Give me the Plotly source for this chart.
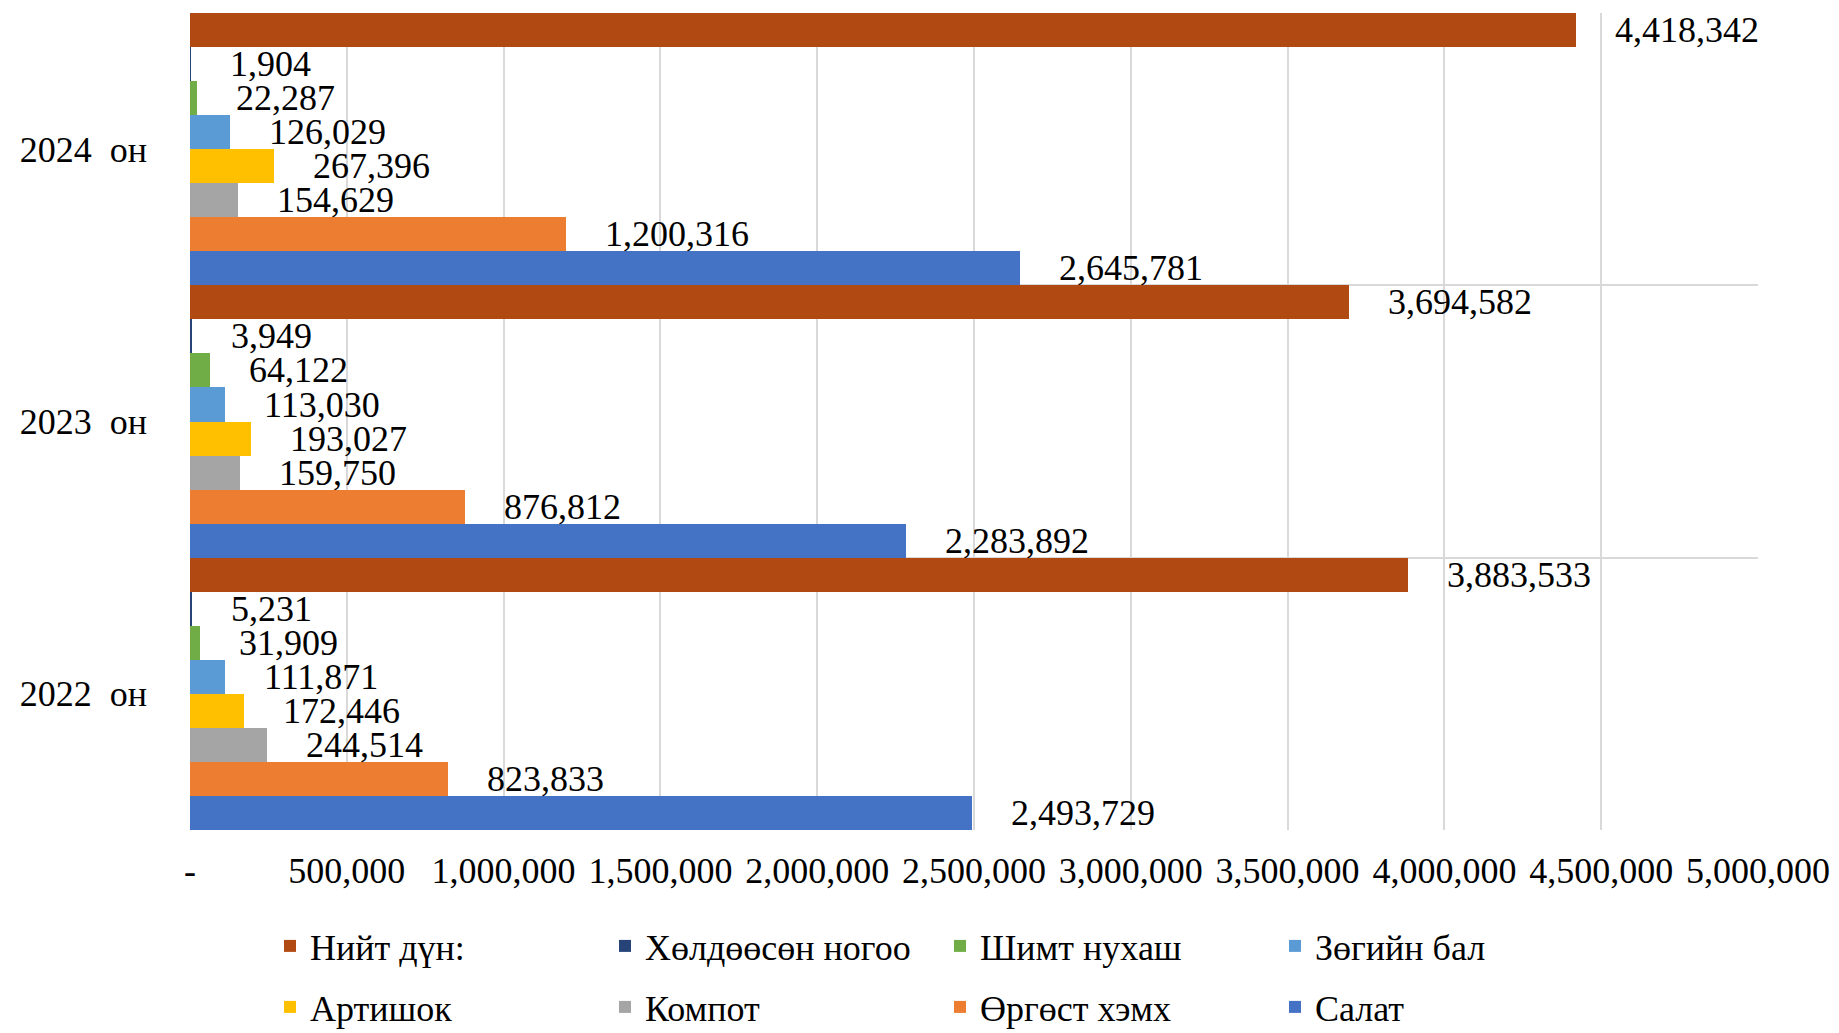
import plotly.graph_objects as go

# ---------------- data ----------------
categories = ["2022 он", "2023 он", "2024 он"]
category_labels = ["2022\u00a0\u00a0он", "2023\u00a0\u00a0он", "2024\u00a0\u00a0он"]

salat = [2493729, 2283892, 2645781]          # Салат
urgust_hemh = [823833, 876812, 1200316]      # Өргөст хэмх
kompot = [244514, 159750, 154629]            # Компот
artishok = [172446, 193027, 267396]          # Артишок
zugiin_bal = [111871, 113030, 126029]        # Зөгийн бал
shimt_nuhash = [31909, 64122, 22287]         # Шимт нухаш
huldeesen_nogoo = [5231, 3949, 1904]         # Хөлдөөсөн ногоо
niit_dun = [3883533, 3694582, 4418342]       # Нийт дүн:

series_names = ["Салат", "Өргөст хэмх", "Компот", "Артишок",
                "Зөгийн бал", "Шимт нухаш", "Хөлдөөсөн ногоо", "Нийт дүн:"]
series_values = [salat, urgust_hemh, kompot, artishok,
                 zugiin_bal, shimt_nuhash, huldeesen_nogoo, niit_dun]
series_colors = ["#4472C4", "#ED7D31", "#A5A5A5", "#FFC000",
                 "#5B9BD5", "#70AD47", "#264478", "#B04A12"]
series_legend = ["legend2", "legend2", "legend2", "legend2",
                 "legend", "legend", "legend", "legend"]

x_tick_vals = [0, 500000, 1000000, 1500000, 2000000, 2500000,
               3000000, 3500000, 4000000, 4500000, 5000000]
x_tick_text = ["-", "500,000", "1,000,000", "1,500,000", "2,000,000", "2,500,000",
               "3,000,000", "3,500,000", "4,000,000", "4,500,000", "5,000,000"]

FONT = "Liberation Serif, Times New Roman, serif"
FS = 36
OFF = 8  # page body margin
W, H = 1839 - OFF, 1033 - OFF

fig = go.Figure()
for name, vals, col, lg in zip(series_names, series_values, series_colors, series_legend):
    fig.add_trace(go.Bar(
        y=categories, x=vals, name=name, orientation="h",
        marker=dict(color=col, line=dict(width=0)),
        texttemplate="\u00a0\u00a0\u00a0\u00a0%{x:,}",
        textposition="outside", constraintext="none", cliponaxis=False,
        textfont=dict(family=FONT, size=FS, color="black"),
        legend=lg, hoverinfo="x+name",
    ))

fig.update_layout(
    width=W, height=H,
    margin=dict(l=190 - OFF, r=1839 - 1758, t=13 - OFF, b=1033 - 830, pad=0),
    paper_bgcolor="white", plot_bgcolor="white",
    barmode="group", bargap=0, bargroupgap=0,
    font=dict(family=FONT, size=FS, color="black"),
    xaxis=dict(
        range=[0, 5000000], tickvals=x_tick_vals, ticktext=x_tick_text,
        showgrid=True, gridcolor="#D9D9D9", gridwidth=2,
        zeroline=False, showline=False, ticks="",
        tickfont=dict(family=FONT, size=FS, color="black"),
        ticklabelstandoff=16,
    ),
    yaxis=dict(
        type="category", categoryorder="array", categoryarray=categories,
        tickvals=categories, ticktext=category_labels,
        showgrid=True, tickson="boundaries", gridcolor="#D9D9D9", gridwidth=2,
        zeroline=False, showline=False, ticks="",
        tickfont=dict(family=FONT, size=FS, color="black"),
        ticklabelstandoff=42,
    ),
    legend=dict(
        orientation="h", traceorder="reversed",
        xref="container", yref="container",
        x=(270 - OFF) / W, xanchor="left", y=1 - (946 - OFF) / H, yanchor="middle",
        entrywidth=290, entrywidthmode="pixels",
        font=dict(family=FONT, size=FS, color="black"),
        bgcolor="rgba(0,0,0,0)",
    ),
    legend2=dict(
        orientation="h", traceorder="reversed",
        xref="container", yref="container",
        x=(270 - OFF) / W, xanchor="left", y=1 - (1007 - OFF) / H, yanchor="middle",
        entrywidth=290, entrywidthmode="pixels",
        font=dict(family=FONT, size=FS, color="black"),
        bgcolor="rgba(0,0,0,0)",
    ),
)

fig.write_html("out.html")
